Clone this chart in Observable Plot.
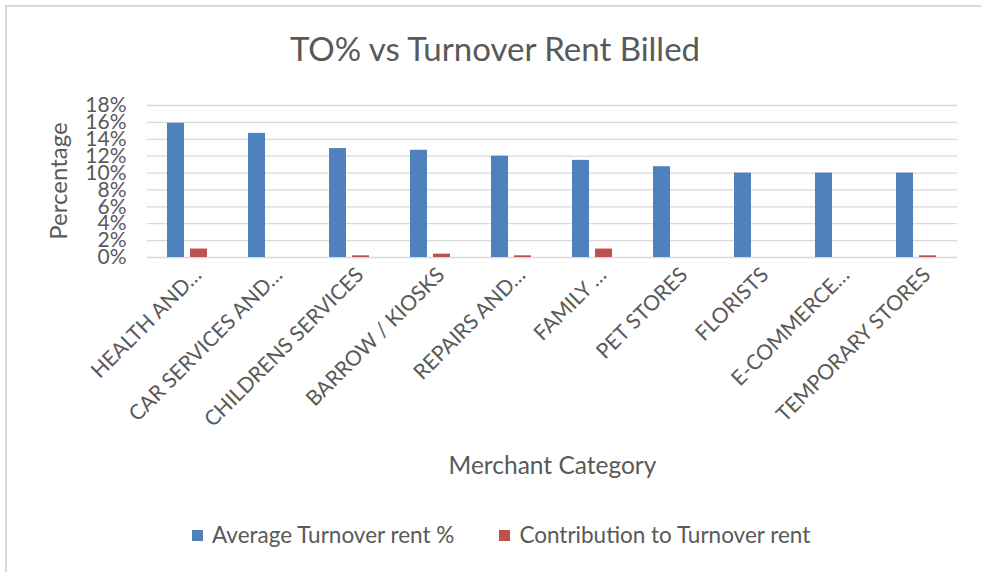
<!DOCTYPE html>
<html><head><meta charset="utf-8">
<script src="https://cdn.jsdelivr.net/npm/d3@7"></script>
<script src="https://cdn.jsdelivr.net/npm/@observablehq/plot@0.6"></script>
<style>
body{margin:0;background:#fff;}
#wrap{position:relative;width:981px;height:572px;overflow:hidden;font-family:Lato,"Open Sans",sans-serif;color:#595959;background:#fff;}
#border{position:absolute;left:5px;top:5px;width:1000px;height:600px;border-left:2px solid #d9d9d9;border-top:2px solid #d9d9d9;}
#chart{position:absolute;left:0;top:0;}
.t{position:absolute;white-space:nowrap;line-height:1;}
#title{left:0;width:990px;text-align:center;top:32px;font-size:33px;}
#ylab{left:58px;top:181px;font-size:24px;transform:translate(-50%,-50%) rotate(-90deg);}
#xlab{left:0;width:1105px;text-align:center;top:453px;font-size:24.5px;}
#legend{left:192px;top:524px;font-size:22.5px;display:flex;align-items:center;}
.sw{display:inline-block;width:11px;height:11px;margin-right:9px;}
.item{display:flex;align-items:center;margin-right:45px;}
</style></head>
<body>
<div id="wrap">
<div id="border"></div>
<div id="chart"></div>
<div class="t" id="title">TO% vs Turnover Rent Billed</div>
<div class="t" id="ylab">Percentage</div>
<div class="t" id="xlab">Merchant Category</div>
<div class="t" id="legend"></div>
</div>
<script>
const categories = ["HEALTH AND…","CAR SERVICES AND…","CHILDRENS SERVICES","BARROW / KIOSKS","REPAIRS AND…","FAMILY …","PET STORES","FLORISTS","E-COMMERCE…","TEMPORARY STORES"];
const seriesNames = ["Average Turnover rent %","Contribution to Turnover rent"];
const avgTurnoverRent = [15.9, 14.7, 12.9, 12.7, 12.0, 11.5, 10.75, 10.0, 10.0, 10.0];
const contribution = [1.0, 0, 0.2, 0.4, 0.2, 1.0, 0, 0, 0, 0.2];
const yTicks = [0, 2, 4, 6, 8, 10, 12, 14, 16, 18];
const yTickLabels = ["0%","2%","4%","6%","8%","10%","12%","14%","16%","18%"];
const colors = ["#4F81BD", "#C0504D"];

const data = [];
categories.forEach((c, i) => {
  data.push({category: c, series: seriesNames[0], value: avgTurnoverRent[i]});
  data.push({category: c, series: seriesNames[1], value: contribution[i]});
});

const plot = Plot.plot({
  width: 981,
  height: 572,
  marginLeft: 143,
  marginRight: 20,
  marginTop: 105,
  marginBottom: 315,
  style: {fontFamily: "Lato, 'Open Sans', sans-serif", color: "#595959", background: "transparent"},
  fx: {domain: categories, paddingInner: 0, paddingOuter: 0, label: null},
  x: {domain: seriesNames, paddingInner: 0.25, paddingOuter: 0.83, axis: null},
  y: {domain: [0, 18], axis: null},
  color: {domain: seriesNames, range: colors},
  marks: [
    Plot.ruleY(yTicks, {y: d => d, stroke: "#d9d9d9", strokeWidth: 1.3}),
    Plot.barY(data, {fx: "category", x: "series", y: "value", fill: "series"}),
    Plot.axisY(yTicks, {anchor: "left", tickSize: 0, tickPadding: 21, tickFormat: (d, i) => yTickLabels[i], fontSize: 21, label: null}),
    Plot.axisFx({anchor: "bottom", tickSize: 0, tickRotate: -45, tickPadding: 14, fontSize: 21, label: null, dx: 10})
  ]
});
document.getElementById("chart").appendChild(plot);

const legend = document.getElementById("legend");
seriesNames.forEach((s, i) => {
  const item = document.createElement("span");
  item.className = "item";
  const sw = document.createElement("span");
  sw.className = "sw";
  sw.style.background = colors[i];
  item.appendChild(sw);
  item.appendChild(document.createTextNode(s));
  legend.appendChild(item);
});
</script>
</body></html>
